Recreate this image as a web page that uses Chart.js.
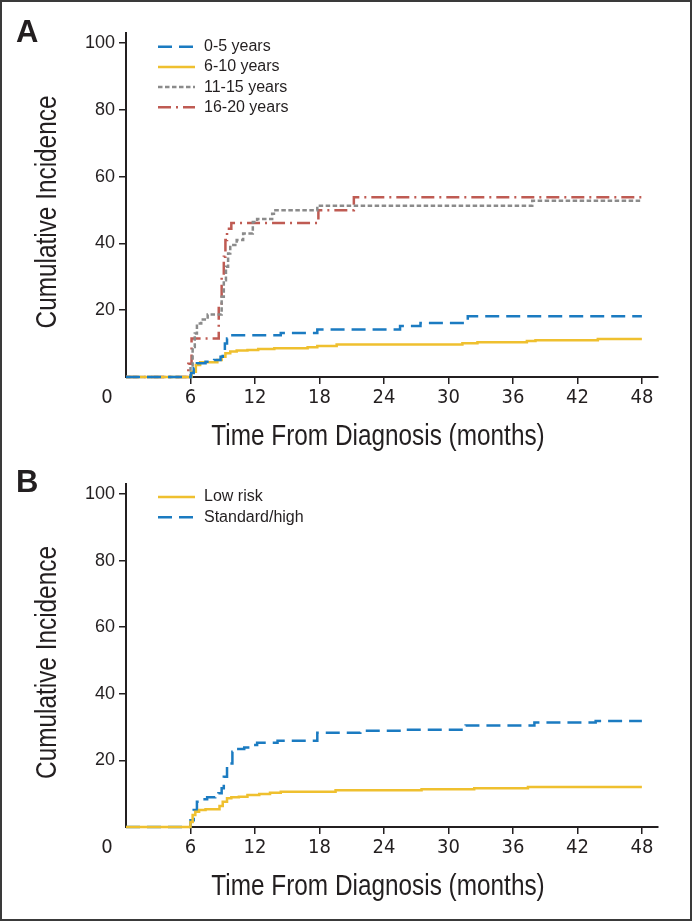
<!DOCTYPE html>
<html>
<head>
<meta charset="utf-8">
<script src="https://cdn.jsdelivr.net/npm/chart.js@4.4.1/dist/chart.umd.min.js"></script>
<style>
  html, body { margin: 0; padding: 0; background: #fff; }
  #page { position: relative; width: 692px; height: 921px; overflow: hidden; }
  #frame { position: absolute; left: 0; top: 0; width: 692px; height: 921px; border: 2px solid #3a3a3a; box-sizing: border-box; pointer-events: none; }
  canvas { position: absolute; left: 0; }
  #chartA { top: 0; }
  #chartB { top: 460px; }
  .panel-tag { position: absolute; left: 16px; font: bold 31px/31px "Liberation Sans", Arial, sans-serif; color: #231f20; }
</style>
</head>
<body>
<div id="page">
  <canvas id="chartA" width="692" height="460"></canvas>
  <canvas id="chartB" width="692" height="461"></canvas>
  <div class="panel-tag" style="top:16px">A</div>
  <div class="panel-tag" style="top:466px">B</div>
  <div id="frame"></div>
</div>
<script>
const xTicks = [6, 12, 18, 24, 30, 36, 42, 48];
const yTicks = [20, 40, 60, 80, 100];
const xTitle = "Time From Diagnosis (months)";
const yTitle = "Cumulative Incidence";

// panel A: age at diagnosis
const ageLabels = ["0-5 years", "6-10 years", "11-15 years", "16-20 years"];
const age05Months = [0, 6.05, 6.3, 6.6, 7.4, 8.2, 8.8, 9.0, 9.2, 9.4, 9.9, 14.4, 17.8, 25.5, 27.4, 31.8, 48];
const age05Pct    = [0, 1.2, 2.6, 4.1, 4.6, 5.1, 6.1, 7.6, 10.0, 11.5, 12.5, 13.2, 14.2, 15.3, 16.2, 18.2, 18.2];
const age610Months = [0, 6.1, 6.5, 6.9, 8.5, 8.9, 9.25, 9.7, 10.3, 11.3, 12.3, 13.8, 16.9, 17.8, 19.6, 31.3, 32.7, 37.3, 38.1, 43.9, 48];
const age610Pct    = [0, 1.6, 3.6, 4.4, 5.1, 6.1, 7.1, 7.6, 7.9, 8.1, 8.4, 8.6, 8.9, 9.3, 9.7, 10.1, 10.4, 10.8, 11.0, 11.4, 11.4];
const age1115Months = [0, 6.0, 6.2, 6.4, 6.6, 7.0, 7.6, 8.9, 9.1, 9.3, 9.5, 9.7, 10.3, 10.9, 11.8, 12.2, 13.6, 13.9, 17.8, 37.8, 48];
const age1115Pct    = [0, 3, 9, 13, 16, 17.2, 18.7, 24, 29, 33, 37, 39.5, 41, 43, 46.4, 47.3, 48.9, 49.9, 51.3, 52.8, 52.8];
const age1620Months = [0, 5.8, 6.1, 8.63, 8.9, 9.1, 9.25, 9.4, 9.8, 17.9, 21.2, 48];
const age1620Pct    = [0, 4, 11.5, 22, 30, 36, 41, 44.4, 46.1, 49.9, 53.8, 53.8];

// panel B: risk group
const riskLabels = ["Low risk", "Standard/high"];
const lowMonths = [0, 6.0, 6.2, 6.45, 6.8, 7.4, 8.7, 9.0, 9.4, 9.8, 10.5, 11.3, 12.4, 13.4, 14.4, 19.5, 27.5, 32.4, 37.4, 48];
const lowPct    = [0, 1.5, 3.6, 4.6, 5.1, 5.3, 6.3, 7.6, 8.6, 8.9, 9.1, 9.6, 9.9, 10.3, 10.6, 11.0, 11.3, 11.6, 12.0, 12.0];
const stdMonths = [0, 6.0, 6.3, 6.6, 6.9, 7.55, 8.3, 8.6, 8.9, 9.1, 9.4, 9.9, 10.0, 11.0, 11.6, 12.2, 14.1, 17.8, 21.8, 25.6, 31.6, 38.0, 43.7, 48];
const stdPct    = [0, 2, 5.1, 7.6, 8.3, 8.9, 9.3, 10.1, 11.6, 15.1, 19.1, 22.6, 23.4, 23.9, 24.6, 25.3, 25.9, 28.3, 28.9, 29.2, 30.5, 31.4, 31.8, 31.8];

const INK = "#231f20";
const NARROW = "'Liberation Sans Narrow', 'DejaVu Sans Condensed', 'Arial Narrow', sans-serif";
const SANS = "'Liberation Sans', Arial, sans-serif";

const BLUE = { borderColor: "#1b7bc1", borderDash: [14, 7] };
const YELLOW = { borderColor: "#efc02f", borderDash: [] };
const GRAY = { borderColor: "#8b8b8b", borderDash: [4.5, 2.5] };
const RED = { borderColor: "#bf5b53", borderDash: [13, 5, 2, 5] };

function toSteps(months, pct) {
  return months.map((m, i) => ({ x: m, y: pct[i] }));
}

function series(label, months, pct, style) {
  return {
    label,
    data: toSteps(months, pct),
    stepped: "before",
    borderWidth: 2.5,
    pointRadius: 0,
    fill: false,
    clip: 8,
    ...style,
  };
}

// legend drawn inside the plot, top-left
const insetLegend = {
  id: "insetLegend",
  afterDatasetsDraw(chart, args, opts) {
    const { ctx, chartArea } = chart;
    const x0 = chartArea.left + 32;
    const x1 = chartArea.left + 69;
    ctx.save();
    ctx.font = "16px " + SANS;
    ctx.textBaseline = "middle";
    ctx.textAlign = "left";
    chart.data.datasets.forEach((ds, i) => {
      const y = chartArea.top + opts.top + i * 20.2;
      ctx.strokeStyle = ds.borderColor;
      ctx.lineWidth = ds.borderWidth;
      ctx.setLineDash(ds.borderDash || []);
      ctx.beginPath();
      ctx.moveTo(x0, y);
      ctx.lineTo(x1, y);
      ctx.stroke();
      ctx.setLineDash([]);
      ctx.fillStyle = INK;
      ctx.fillText(ds.label, chartArea.left + 78, y);
    });
    ctx.restore();
  },
};

// "0" left of the origin, and condensed axis titles (no narrow font installed)
const axisText = {
  id: "axisText",
  afterDraw(chart) {
    const xs = chart.scales.x;
    const { ctx, chartArea } = chart;
    ctx.save();
    ctx.fillStyle = INK;
    ctx.textAlign = "center";
    ctx.textBaseline = "middle";
    ctx.font = "20px " + NARROW;
    ctx.fillText("0", xs.getPixelForValue(0) - 19, chartArea.bottom + 21);

    ctx.font = "29px " + SANS;
    ctx.save();
    ctx.translate((chartArea.left + chartArea.right) / 2 - 14, chartArea.bottom + 60);
    ctx.scale(0.84, 1);
    ctx.fillText(xTitle, 0, 0);
    ctx.restore();

    ctx.save();
    ctx.translate(48, (chartArea.top + chartArea.bottom) / 2 + 7);
    ctx.rotate(-Math.PI / 2);
    ctx.scale(0.84, 1);
    ctx.fillText(yTitle, 0, 0);
    ctx.restore();
    ctx.restore();
  },
};

function makePanel(id, datasets, cfg) {
  const el = document.getElementById(id);
  return new Chart(el.getContext("2d"), {
    type: "line",
    data: { datasets },
    plugins: [insetLegend, axisText],
    options: {
      responsive: false,
      animation: false,
      devicePixelRatio: 1,
      layout: { padding: { top: cfg.top, right: 34, left: 0, bottom: 0 } },
      plugins: {
        legend: { display: false },
        tooltip: { enabled: false },
        insetLegend: { top: cfg.legendTop },
      },
      scales: {
        x: {
          type: "linear",
          min: 0,
          max: 49.5,
          afterBuildTicks: (s) => { s.ticks = xTicks.map((v) => ({ value: v })); },
          afterFit: (s) => { s.height = cfg.xAxisHeight; },
          grid: { drawOnChartArea: false, color: INK, lineWidth: 1.5, tickLength: 7 },
          border: { display: true, color: INK, width: 2 },
          ticks: { color: INK, padding: 2, maxRotation: 0, font: { family: NARROW, size: 20 } },
        },
        y: {
          min: 0,
          max: 103,
          afterBuildTicks: (s) => { s.ticks = yTicks.map((v) => ({ value: v })); },
          afterFit: (s) => { s.width = 126; },
          grid: { drawOnChartArea: false, color: INK, lineWidth: 1.5, tickLength: 7 },
          border: { display: true, color: INK, width: 2 },
          ticks: { color: INK, padding: 4, font: { family: SANS, size: 18 } },
        },
      },
    },
  });
}

makePanel("chartA", [
  series(ageLabels[0], age05Months, age05Pct, BLUE),
  series(ageLabels[1], age610Months, age610Pct, YELLOW),
  series(ageLabels[2], age1115Months, age1115Pct, GRAY),
  series(ageLabels[3], age1620Months, age1620Pct, RED),
], { top: 33, xAxisHeight: 83, legendTop: 13.7 });

makePanel("chartB", [
  series(riskLabels[0], lowMonths, lowPct, YELLOW),
  series(riskLabels[1], stdMonths, stdPct, BLUE),
], { top: 24, xAxisHeight: 94, legendTop: 13 });
</script>
</body>
</html>
